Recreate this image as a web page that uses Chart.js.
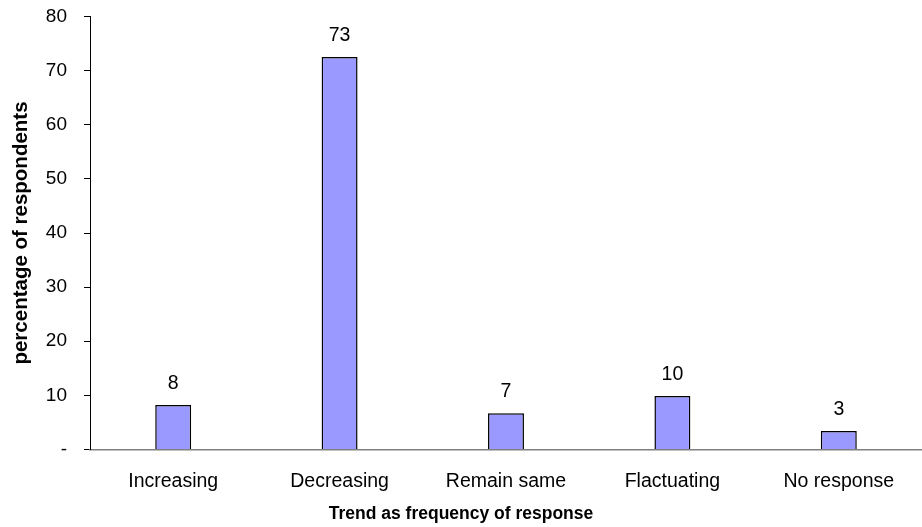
<!DOCTYPE html>
<html>
<head>
<meta charset="utf-8">
<script src="https://cdn.jsdelivr.net/npm/chart.js@4/dist/chart.umd.min.js"></script>
<style>
  html, body { margin: 0; padding: 0; background: #fff; }
  #wrap { width: 922px; height: 527px; }
</style>
</head>
<body>
<div id="wrap"><canvas id="chart" width="922" height="527"></canvas></div>
<script>
// Share of respondents by perceived trend (percent)
const categories = ['Increasing', 'Decreasing', 'Remain same', 'Flactuating', 'No response'];
const percentages = [8.2, 72.5, 6.7, 9.9, 3.4];
const yTicks = [0, 10, 20, 30, 40, 50, 60, 70, 80];

const FONT = '"Liberation Sans", Arial, sans-serif';

// Writes each bar's value (rounded) just above it
const valueLabels = {
  id: 'valueLabels',
  afterDatasetsDraw(chart) {
    const ctx = chart.ctx;
    const meta = chart.getDatasetMeta(0);
    const data = chart.data.datasets[0].data;
    ctx.save();
    ctx.font = '19.5px ' + FONT;
    ctx.fillStyle = '#000';
    ctx.textAlign = 'center';
    ctx.textBaseline = 'alphabetic';
    meta.data.forEach((bar, i) => {
      ctx.fillText(String(Math.round(data[i])), bar.x, bar.y - 16);
    });
    ctx.restore();
  }
};

new Chart(document.getElementById('chart'), {
  type: 'bar',
  data: {
    labels: categories,
    datasets: [{
      data: percentages,
      backgroundColor: '#9999FF',
      borderColor: '#000',
      borderWidth: 1.5,
      borderSkipped: 'bottom',
      barPercentage: 0.216,
      categoryPercentage: 1
    }]
  },
  options: {
    responsive: false,
    devicePixelRatio: 1,
    animation: false,
    layout: { padding: { top: 16.5, right: 0, left: 0, bottom: 0 } },
    plugins: {
      legend: { display: false },
      tooltip: { enabled: false },
      title: {
        display: true,
        position: 'bottom',
        text: 'Trend as frequency of response',
        color: '#000',
        font: { family: FONT, size: 17.5, weight: 'bold', lineHeight: 1.2 },
        padding: { top: 0, bottom: 2 }
      }
    },
    scales: {
      x: {
        grid: { display: false, drawTicks: false },
        border: { display: true, color: '#808080', width: 1.5 },
        ticks: {
          color: '#000',
          font: { family: FONT, size: 19.5 },
          padding: 20,
          maxRotation: 0,
          autoSkip: false
        },
        afterFit(scale) { scale.height = 54.5; }
      },
      y: {
        min: 0,
        max: 80,
        afterBuildTicks(scale) { scale.ticks = yTicks.map(v => ({ value: v })); },
        grid: {
          drawOnChartArea: false,
          drawTicks: true,
          tickLength: 6,
          tickColor: '#000',
          color: '#000'
        },
        border: { display: true, color: '#000', width: 1 },
        ticks: {
          color: '#000',
          font: { family: FONT, size: 19 },
          padding: 17,
          callback: (v) => v === 0 ? '-' : String(v)
        },
        title: {
          display: true,
          text: 'percentage of respondents',
          color: '#000',
          font: { family: FONT, size: 20.5, weight: 'bold' },
          padding: { top: 9, bottom: 0 }
        },
        afterFit(scale) {
          scale.width = 90;
          // the plot's top edge comes from the layout padding alone
          scale.paddingTop = 0;
          scale.paddingBottom = 0;
        }
      }
    }
  },
  plugins: [valueLabels]
});
</script>
</body>
</html>
